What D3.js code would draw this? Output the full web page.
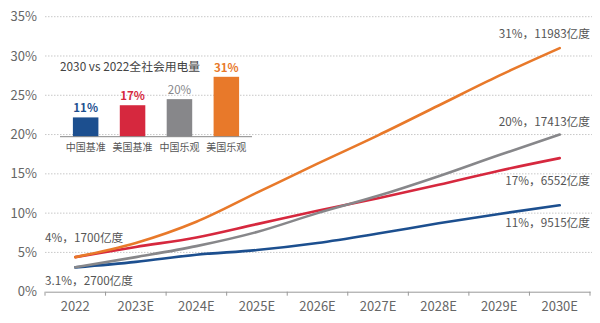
<!DOCTYPE html>
<html>
<head>
<meta charset="utf-8">
<script src="https://cdn.jsdelivr.net/npm/d3@7"></script>
<style>
  html, body { margin: 0; padding: 0; background: #fff; }
  svg { display: block; font-family: "Noto Sans CJK SC", "Noto Sans", sans-serif; }
</style>
</head>
<body>
<div id="chart"></div>
<script>
// years on the x axis
var years = ["2022", "2023E", "2024E", "2025E", "2026E", "2027E", "2028E", "2029E", "2030E"];

// share of total power consumption (%) per scenario
var chinaBase = [3.1, 3.8, 4.7, 5.3, 6.2, 7.4, 8.7, 9.9, 11];
var usBase    = [4.4, 5.7, 6.9, 8.6, 10.3, 11.9, 13.6, 15.4, 17];
var chinaOpt  = [3.1, 4.4, 5.8, 7.6, 10.0, 12.2, 14.7, 17.4, 20];
var usOpt     = [4.4, 6.2, 8.9, 12.6, 16.3, 19.9, 23.7, 27.5, 31];

// end-of-line electricity amounts (亿度)
var endAmounts = [9515, 6552, 17413, 11983];

var yTicks = [0, 5, 10, 15, 20, 25, 30, 35];

// inset bar chart
var barCats = ["中国基准", "美国基准", "中国乐观", "美国乐观"];
var barVals = [11, 17, 20, 31];

var colors = ["#1c4f8f", "#d6283e", "#87878a", "#e8792a"];

var width = 600, height = 323;

var svg = d3.select("#chart").append("svg")
    .attr("width", width)
    .attr("height", height);

var x = d3.scaleBand().domain(years).range([45, 590]);
var y = d3.scaleLinear().domain([0, 35]).range([291.7, 16.7]);

// dotted grid
svg.append("g")
    .selectAll("line")
    .data(yTicks.filter(function(d){ return d > 0; }))
    .enter()
    .append("line")
    .attr("x1", 45)
    .attr("x2", 592)
    .attr("y1", function(d){ return y(d); })
    .attr("y2", function(d){ return y(d); })
    .attr("stroke", "#c8c8c8")
    .attr("stroke-width", 1)
    .attr("stroke-dasharray", "1.5,1.5");

// y labels
svg.append("g")
    .selectAll("text")
    .data(yTicks)
    .enter()
    .append("text")
    .attr("x", 37)
    .attr("y", function(d){ return y(d); })
    .attr("dy", "0.35em")
    .attr("text-anchor", "end")
    .attr("font-size", 13)
    .attr("fill", "#666")
    .text(function(d){ return d + "%"; });

// x axis
var xAxis = svg.append("g")
    .attr("transform", "translate(0," + y(0) + ")")
    .call(d3.axisBottom(x).tickSize(0).tickPadding(10));
xAxis.select(".domain").attr("stroke", "#999");
xAxis.selectAll("text")
    .attr("font-size", 13)
    .attr("fill", "#666")
    .attr("font-family", "Noto Sans CJK SC, sans-serif");

// boundary ticks between years
var tickPos = years.map(function(d){ return x(d); }).concat([x.range()[1]]);
xAxis.selectAll(".bound")
    .data(tickPos)
    .enter()
    .append("line")
    .attr("x1", function(d){ return d; })
    .attr("x2", function(d){ return d; })
    .attr("y1", 0)
    .attr("y2", 4)
    .attr("stroke", "#999");

// scenario lines
var series = [chinaBase, usBase, chinaOpt, usOpt];
var line = d3.line()
    .x(function(d, i){ return x(years[i]) + x.bandwidth() / 2; })
    .y(function(d){ return y(d); })
    .curve(d3.curveMonotoneX);

svg.append("g")
    .selectAll("path")
    .data(series)
    .enter()
    .append("path")
    .attr("d", line)
    .attr("fill", "none")
    .attr("stroke", function(d, i){ return colors[i]; })
    .attr("stroke-width", 2.6)
    .attr("stroke-linecap", "round");

// end labels
var endLabelY = [223, 181, 122, 34];
svg.append("g")
    .selectAll("text")
    .data(series)
    .enter()
    .append("text")
    .attr("x", 590)
    .attr("y", function(d, i){ return endLabelY[i]; })
    .attr("dy", "0.35em")
    .attr("text-anchor", "end")
    .attr("font-size", 11.7)
    .attr("fill", "#555")
    .text(function(d, i){ return d[d.length - 1] + "%，" + endAmounts[i] + "亿度"; });

// start labels
svg.append("text")
    .attr("x", 45).attr("y", 237.5).attr("dy", "0.35em")
    .attr("font-size", 11.7).attr("fill", "#555")
    .text(Math.round(usBase[0]) + "%，1700亿度");
svg.append("text")
    .attr("x", 45).attr("y", 281).attr("dy", "0.35em")
    .attr("font-size", 11.7).attr("fill", "#555")
    .text(chinaBase[0] + "%，2700亿度");

// inset bar chart
var inset = svg.append("g");
var bx = d3.scaleBand().domain(barCats).range([60, 252]).paddingInner(0.456).paddingOuter(0.275);
var bh = d3.scaleLinear().domain([1.5, 31]).range([0, 59.9]);
var base = 136.7;

inset.append("text")
    .attr("x", 60).attr("y", 67).attr("dy", "0.35em")
    .attr("font-size", 11.8).attr("fill", "#444")
    .text("2030 vs 2022全社会用电量");

inset.selectAll("rect")
    .data(barVals)
    .enter()
    .append("rect")
    .attr("x", function(d, i){ return bx(barCats[i]); })
    .attr("width", bx.bandwidth())
    .attr("y", function(d){ return base - bh(d); })
    .attr("height", function(d){ return bh(d); })
    .attr("fill", function(d, i){ return colors[i]; });

inset.selectAll(".val")
    .data(barVals)
    .enter()
    .append("text")
    .attr("x", function(d, i){ return bx(barCats[i]) + bx.bandwidth() / 2; })
    .attr("y", function(d){ return base - bh(d) - 5; })
    .attr("text-anchor", "middle")
    .attr("font-size", 11.5)
    .attr("font-weight", function(d, i){ return i === 2 ? "normal" : "bold"; })
    .attr("fill", function(d, i){ return colors[i]; })
    .text(function(d){ return d + "%"; });

inset.append("line")
    .attr("x1", 60).attr("x2", 252)
    .attr("y1", base).attr("y2", base)
    .attr("stroke", "#888").attr("stroke-width", 1);

inset.selectAll(".cat")
    .data(barCats)
    .enter()
    .append("text")
    .attr("x", function(d){ return bx(d) + bx.bandwidth() / 2; })
    .attr("y", 147)
    .attr("dy", "0.35em")
    .attr("text-anchor", "middle")
    .attr("font-size", 10)
    .attr("fill", "#555")
    .text(function(d){ return d; });
</script>
</body>
</html>
